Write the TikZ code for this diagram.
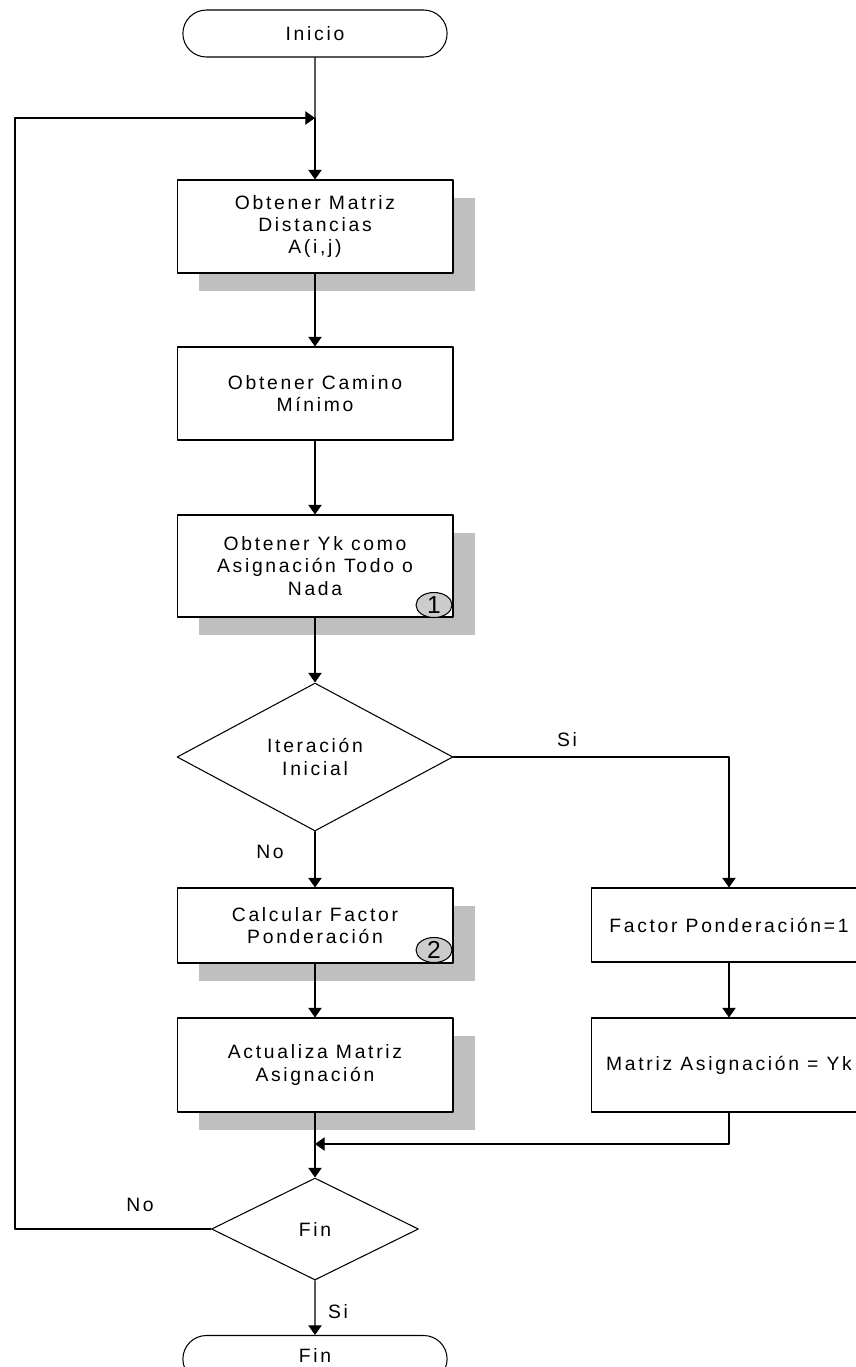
\documentclass[tikz,border=0pt]{standalone}
\usepackage{fontspec}
\setmainfont{Liberation Sans}[LetterSpace=14]
\usepackage{tikz}
\usetikzlibrary{arrows.meta,shapes.misc,shapes.geometric,shadows}

\tikzset{
  caja/.style={draw,fill=white,align=center,minimum width=5.52cm,inner sep=0pt},
  sombra/.style={drop shadow={shadow xshift=0.44cm,shadow yshift=-0.36cm,fill=black!25,opacity=1}},
  terminal/.style={draw,fill=white,rounded rectangle,minimum width=5.52cm,minimum height=0.94cm},
  decision/.style={draw,diamond,aspect=2,inner sep=0pt,align=center},
  marca/.style={draw,ellipse,fill=black!20,minimum width=0.72cm,minimum height=0.5cm,inner sep=0pt,font=\fontsize{14}{14}\selectfont},
  etiqueta/.style={inner sep=0pt}
}

\begin{document}
\begin{tikzpicture}[line cap=round,line join=round,>={Triangle[length=5.5pt,width=7.6pt]},x=0.02cm,y=-0.02cm,line width=0.6pt,font=\fontsize{11}{12.8}\selectfont]
\useasboundingbox (0,0) rectangle (856,1367);
\clip (0,0) rectangle (856,1367);
\node[terminal] (inicio) at (315,33.5) {Inicio};
\coordinate (retorno) at (315,118);
\node[caja,sombra,minimum height=1.86cm] (distancias) at (315,226.5) {Obtener Matriz\\Distancias\\A(i,j)};
\node[caja,minimum height=1.86cm] (camino) at (315,393.5) {Obtener Camino\\Mínimo};
\node[caja,sombra,minimum height=2.04cm] (todonada) at (315,566) {Obtener Yk como\\Asignación Todo o\\Nada};
\node[marca] (uno) at (434,605) {1};
\node[decision,minimum width=5.52cm,minimum height=2.96cm] (iteracion) at (315,757) {Iteración\\Inicial};
\node[caja,sombra,minimum height=1.5cm] (factor) at (315,925.5) {Calcular Factor\\Ponderación};
\node[marca] (dos) at (434,950) {2};
\node[caja,sombra,minimum height=1.88cm] (actualiza) at (315,1065) {Actualiza Matriz\\Asignación};
\node[caja,minimum height=1.48cm] (factoruno) at (729,925) {Factor Ponderación=1};
\node[caja,minimum height=1.88cm] (asigna) at (729,1065) {Matriz Asignación = Yk};
\coordinate (union) at (315,1144);
\node[decision,minimum width=4.14cm,minimum height=2.04cm] (fin) at (315,1229) {Fin};
\node[terminal] (final) at (315,1359) {\raisebox{3.6pt}{Fin}};
\draw (inicio) -- (retorno);
\draw[->] (retorno) -- (distancias);
\draw[->] (distancias) -- (camino);
\draw[->] (camino) -- (todonada);
\draw[->] (todonada) -- (iteracion);
\draw[->] (iteracion) -- (factor);
\draw[->] (iteracion.east) -| (factoruno);
\draw[->] (factor) -- (actualiza);
\draw[->] (factoruno) -- (asigna);
\draw (actualiza) -- (union);
\draw[->] (asigna.south) |- (union);
\draw[->] (union) -- (fin);
\draw[->] (fin) -- (final);
\draw[->] (fin.west) -- (15,1229) |- (retorno);
\node[etiqueta] at (567,740) {Si};
\node[etiqueta] at (270,852) {No};
\node[etiqueta] at (140,1205) {No};
\node[etiqueta] at (338,1312) {Si};
\end{tikzpicture}
\end{document}
